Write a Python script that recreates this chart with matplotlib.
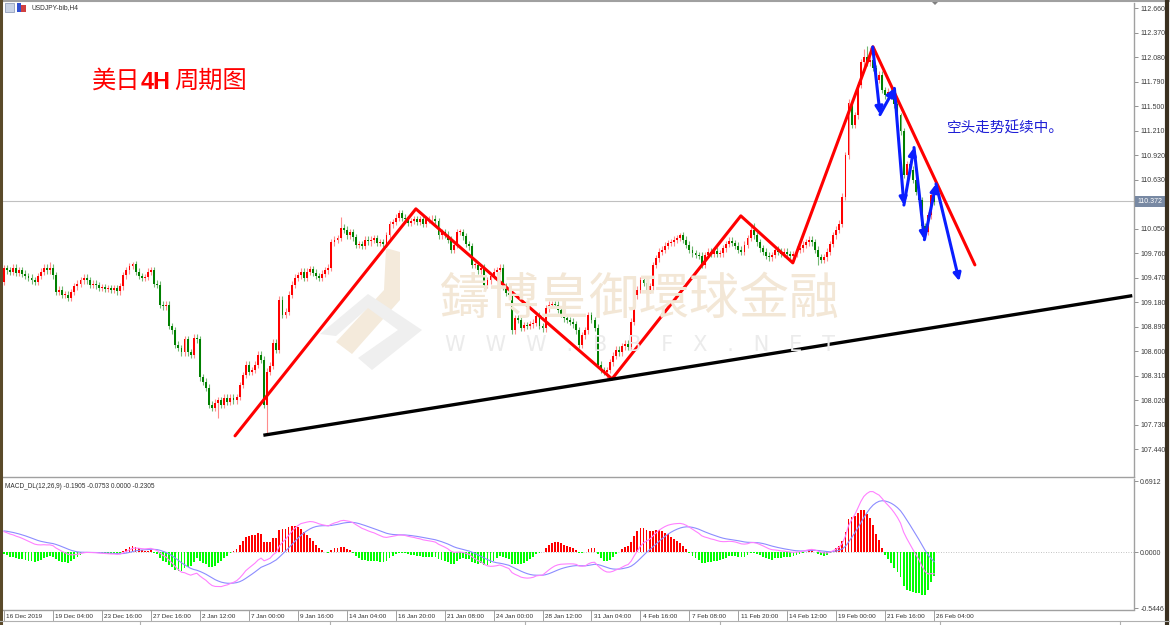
import numpy as np
import matplotlib
matplotlib.use("Agg")
import matplotlib.pyplot as plt
from matplotlib.patches import Polygon, Rectangle
from matplotlib.lines import Line2D
import matplotlib.transforms as mtransforms

# ---------------- data ----------------
open0 = 109.42
closes = [
    109.58, 109.56, 109.54, 109.59, 109.53, 109.56, 109.52, 109.49, 109.47, 109.44,
    109.42, 109.49, 109.54, 109.59, 109.56, 109.59, 109.50, 109.30, 109.33, 109.27,
    109.27, 109.23, 109.30, 109.37, 109.40, 109.44, 109.47, 109.44, 109.39, 109.40,
    109.38, 109.35, 109.36, 109.34, 109.35, 109.33, 109.35, 109.31, 109.37, 109.50,
    109.56, 109.61, 109.63, 109.54, 109.49, 109.47, 109.48, 109.54, 109.56, 109.40,
    109.39, 109.15, 109.13, 109.15, 108.90, 108.85, 108.68, 108.64, 108.59, 108.74,
    108.59, 108.56, 108.76, 108.74, 108.29, 108.24, 108.17, 107.97, 107.93, 107.99,
    108.02, 107.97, 108.05, 108.00, 108.05, 108.02, 108.06, 108.20, 108.32, 108.44,
    108.36, 108.38, 108.44, 108.56, 108.50, 107.97, 108.36, 108.43, 108.70, 108.62,
    109.21, 109.03, 109.07, 109.27, 109.39, 109.47, 109.50, 109.54, 109.47, 109.54,
    109.57, 109.53, 109.49, 109.47, 109.52, 109.56, 109.59, 109.89, 109.92, 109.94,
    110.06, 110.04, 109.97, 110.01, 109.95, 109.86, 109.87, 109.85, 109.92, 109.90,
    109.92, 109.94, 109.88, 109.89, 109.87, 109.97, 110.10, 110.13, 110.18, 110.23,
    110.18, 110.16, 110.12, 110.14, 110.16, 110.13, 110.16, 110.11, 110.16, 110.16,
    110.17, 110.14, 109.97, 110.01, 109.98, 109.92, 109.80, 109.86, 110.01, 110.01,
    109.96, 109.87, 109.84, 109.62, 109.62, 109.56, 109.59, 109.39, 109.44, 109.49,
    109.54, 109.56, 109.59, 109.37, 109.29, 109.26, 108.85, 108.99, 108.97, 108.88,
    108.91, 108.90, 108.92, 108.94, 109.02, 108.90, 108.87, 109.11, 109.15, 109.16,
    109.15, 109.09, 109.04, 108.99, 108.97, 108.95, 108.92, 108.85, 108.68, 108.79,
    108.85, 109.03, 108.97, 108.88, 108.44, 108.38, 108.36, 108.38, 108.47, 108.55,
    108.62, 108.59, 108.66, 108.69, 108.65, 108.95, 109.26, 109.33, 109.44, 109.41,
    109.33, 109.37, 109.62, 109.70, 109.78, 109.80, 109.85, 109.88, 109.89, 109.92,
    109.94, 109.97, 109.92, 109.86, 109.80, 109.76, 109.74, 109.73, 109.62, 109.74,
    109.78, 109.75, 109.79, 109.75, 109.76, 109.82, 109.87, 109.91, 109.88, 109.85,
    109.80, 109.78, 109.86, 109.94, 110.04, 109.97, 109.89, 109.82, 109.78, 109.73,
    109.71, 109.74, 109.80, 109.78, 109.75, 109.78, 109.75, 109.73, 109.75, 109.80,
    109.82, 109.86, 109.89, 109.92, 109.89, 109.80, 109.71, 109.68, 109.71, 109.78,
    109.87, 109.97, 110.04, 110.11, 110.43, 110.92, 111.54, 111.28, 111.39, 111.75,
    112.02, 112.08, 112.02, 112.05, 111.95, 111.81, 111.87, 111.69, 111.63, 111.67,
    111.63, 111.52, 111.40, 111.20, 110.69, 110.81, 110.75, 110.63, 110.49, 110.39,
    110.08, 110.01, 110.21, 110.45, 110.37,
]
wick_pad = 0.04
high_override = {15: 109.66, 42: 109.66, 110: 110.19, 129: 110.27, 221: 110.00,
                 245: 110.12, 281: 112.18, 282: 112.21, 283: 112.20, 293: 111.42}
low_override = {70: 107.81, 86: 107.63, 197: 108.27, 120: 109.85, 266: 109.62}

# MACD(12,26,9) seeds from history before the first bar
ema12_seed = 109.50
ema26_seed = 109.29
signal_seed = 0.21
macd_readout = [-0.1905, -0.0753, 0.0000, -0.2305]

# analyst lines (bar index, price)
trend_bar = [75.5, 134.6, 198.7, 240.8, 257.8, 284.0, 317.3]
trend_price = [107.60, 110.285, 108.273, 110.202, 109.646, 112.202, 109.622]
support_bar = [85.3, 368.2]
support_price = [107.61, 109.255]
arrow_bar = [283.9, 286.3, 291.0, 294.1, 297.4, 300.8, 304.6, 312.2]
arrow_price = [112.20, 111.40, 111.71, 110.33, 111.01, 109.92, 110.58, 109.43]

current_price = 110.372
price_ticks = [107.440, 107.730, 108.020, 108.310, 108.600, 108.890, 109.180, 109.470,
               109.760, 110.050, 110.340, 110.630, 110.920, 111.210, 111.500, 111.790,
               112.080, 112.370, 112.660]
date_labels = ["16 Dec 2019", "19 Dec 04:00", "23 Dec 16:00", "27 Dec 16:00", "2 Jan 12:00",
               "7 Jan 00:00", "9 Jan 16:00", "14 Jan 04:00", "16 Jan 20:00", "21 Jan 08:00",
               "24 Jan 00:00", "28 Jan 12:00", "31 Jan 04:00", "4 Feb 16:00", "7 Feb 08:00",
               "11 Feb 20:00", "14 Feb 12:00", "19 Feb 00:00", "21 Feb 16:00", "26 Feb 04:00"]
date_step = 16
macd_top, macd_bottom = 0.6912, -0.5446

# ---------------- figure ----------------
W, H = 1170, 625
fig = plt.figure(figsize=(11.7, 6.25), dpi=100)
fig.patch.set_facecolor('white')

def fx(px):
    return px / W

def fy(py):
    return 1 - py / H

AX_L, AX_R = 3, 1134
ax = fig.add_axes([fx(AX_L), fy(477), fx(AX_R) - fx(AX_L), fy(3) - fy(477)])
mx = fig.add_axes([fx(AX_L), fy(609.5), fx(AX_R) - fx(AX_L), fy(479.5) - fy(609.5)], sharex=ax)

close = np.array(closes)
n = len(close)
idx = np.arange(n)
opn = np.r_[open0, close[:-1]]
up = close >= opn
high = np.maximum(opn, close) + wick_pad
low = np.minimum(opn, close) - wick_pad
for k, v in high_override.items():
    high[k] = v
for k, v in low_override.items():
    low[k] = v
body_lo = np.minimum(opn, close)
body_h = np.maximum(np.abs(close - opn), 0.008)

ax.set_xlim(-0.33, 369.3)
ax.set_ylim(107.113, 112.72)

# watermark
wm_color = '#f3e7d6'
fig.text(fx(640), fy(300), "鑄博皇御環球金融", fontsize=36, color=wm_color,
         family=['Noto Sans CJK TC', 'DejaVu Sans'], ha='center', va='center', zorder=0)
fig.text(fx(640), fy(345), "W   W   W   .   B   B   F   X   .   N   E   T", fontsize=15,
         color='#ebebeb', ha='center', va='center', zorder=0)
logo_beige = [(386, 248), (400, 252), (400, 300), (352, 354), (336, 342), (384, 290)]
logo_gray = [(320, 334), (368, 294), (422, 330), (372, 370), (358, 358), (398, 330), (368, 308), (336, 336)]
for pts, col in ((logo_beige, '#f4eadb'), (logo_gray, '#efefef')):
    fig.patches.append(Polygon([(fx(a), fy(b)) for a, b in pts], closed=True,
                               transform=fig.transFigure, facecolor=col, edgecolor='none', zorder=0))

ax.patch.set_alpha(0)
mx.patch.set_alpha(0)

# current price line
ax.axhline(current_price, color='#c0c0c0', lw=0.8, zorder=1)

# candles
ax.vlines(idx, low, high, colors=np.where(up, '#ff8c8c', '#74b874'), lw=0.8, zorder=2)
ax.bar(idx, body_h, bottom=body_lo, width=0.62, color=np.where(up, '#ff0000', '#008000'),
       linewidth=0, zorder=3)

# analyst lines
ax.plot(trend_bar, trend_price, color='#ff0000', lw=2.2, zorder=5, solid_capstyle='round')
ax.plot(support_bar, support_price, color='black', lw=2.4, zorder=5)
for i in range(len(arrow_bar) - 1):
    ax.annotate('', xy=(arrow_bar[i + 1], arrow_price[i + 1]),
                xytext=(arrow_bar[i], arrow_price[i]),
                arrowprops=dict(arrowstyle='-|>', color='#0a1eff', lw=2.2,
                                mutation_scale=11, shrinkA=0, shrinkB=0), zorder=6)

# axis styling main
for s in ('left', 'top'):
    ax.spines[s].set_visible(False)
for s in ('right', 'bottom'):
    ax.spines[s].set_color('#a0a0a0')
    ax.spines[s].set_linewidth(1.0)
ax.yaxis.tick_right()
ax.set_yticks(price_ticks)
ax.set_yticklabels(["" if abs(v - 110.340) < 1e-6 else f"{v:.3f}" for v in price_ticks])
ax.tick_params(axis='y', labelsize=5.0, labelcolor='#3a3a3a', length=3, width=0.6,
               color='#808080', pad=1.5)
for t in ax.get_yticklabels():
    t.set_family('Liberation Sans')
ax.tick_params(axis='x', bottom=False, labelbottom=False)

# current price label
ax.text(1.003, current_price, f"{current_price:.3f}", transform=ax.get_yaxis_transform(),
        fontsize=5.0, family='Liberation Sans', color='white', va='center', ha='left', zorder=10,
        bbox=dict(boxstyle='square,pad=0.35', facecolor='#7889a3', edgecolor='none'))

# MACD
def ema(values, period, seed):
    a = 2.0 / (period + 1)
    out = []
    e = seed
    for v in values:
        e = e + a * (v - e)
        out.append(e)
    return np.array(out)

macd = ema(close, 12, ema12_seed) - ema(close, 26, ema26_seed)
signal = ema(macd, 9, signal_seed)
hist = 2 * (macd - signal)

mx.set_ylim(-0.557, 0.709)
mx.axhline(0, color='#b0b0b0', lw=0.6, ls=(0, (1, 2)), zorder=1)
mx.bar(idx, hist, width=0.6, color=np.where(hist >= 0, '#ff0000', '#00ff00'), linewidth=0, zorder=2)
mx.plot(idx, signal, color='#8c8cff', lw=0.8, zorder=3)
mx.plot(idx, macd, color='#ff80ff', lw=0.8, zorder=3)

for s in ('left', 'top'):
    mx.spines[s].set_visible(False)
for s in ('right', 'bottom'):
    mx.spines[s].set_color('#a0a0a0')
    mx.spines[s].set_linewidth(1.0)
mx.yaxis.tick_right()
mx.set_yticks([macd_top, 0.0, macd_bottom])
mx.set_yticklabels([f"{macd_top:.4f}", "0.0000", f"{macd_bottom:.4f}"])
mx.tick_params(axis='y', labelsize=5.0, labelcolor='#3a3a3a', length=3, width=0.6,
               color='#808080', pad=1.5)
for t in mx.get_yticklabels():
    t.set_family('Liberation Sans')
mx.tick_params(axis='x', bottom=False, labelbottom=False)
mx.text(0.002, 0.975, "MACD_DL(12,26,9) " + " ".join(f"{v:.4f}" for v in macd_readout),
        transform=mx.transAxes, fontsize=4.7, family='Liberation Sans', color='#303030',
        va='top', ha='left')

# date axis
bx = mtransforms.blended_transform_factory(mx.transData, fig.transFigure)
for k, lab in enumerate(date_labels):
    b = k * date_step
    mx.text(b + 0.7, fy(616), lab, transform=bx, fontsize=4.6, family='Liberation Sans',
            color='#303030', ha='left', va='center', clip_on=False)
    mx.plot([b, b], [fy(611), fy(620)], transform=bx, color='#909090', lw=0.6, clip_on=False)

# texts
cjk = ['Noto Sans CJK SC', 'DejaVu Sans']
fig.text(fx(92), fy(88), "美日", fontsize=17.5, color='#ff0000', family=cjk, va='baseline')
fig.text(fx(140.5), fy(89), "4H", fontsize=16.8, color='#ff0000', family='Liberation Sans',
         weight='bold', va='baseline')
fig.text(fx(174), fy(88), "周期图", fontsize=17.5, color='#ff0000', family=cjk, va='baseline')
fig.text(fx(947), fy(128), "空头走势延续中。", fontsize=10.5, color='#1f1fd6', family=cjk,
         va='center', ha='left')
fig.text(fx(31), fy(8), "USDJPY-bib,H4", fontsize=4.8, family='Liberation Sans',
         color='#303030', va='center', ha='left')

# small icons
fig.patches.append(Rectangle((fx(5), fy(12)), fx(9), fy(3) - fy(12), transform=fig.transFigure,
                             facecolor='#c9d3e6', edgecolor='#8090b0', lw=0.5))
fig.patches.append(Rectangle((fx(17), fy(12)), fx(4), fy(3) - fy(12), transform=fig.transFigure,
                             facecolor='#3050d0', edgecolor='none'))
fig.patches.append(Rectangle((fx(21), fy(12)), fx(5), fy(5) - fy(12), transform=fig.transFigure,
                             facecolor='#d04040', edgecolor='none'))

# window frame
fig.lines.append(Line2D([0, 1], [fy(1), fy(1)], transform=fig.transFigure, color='#a0a0a0', lw=1.5))
fig.lines.append(Line2D([fx(1.2), fx(1.2)], [0, 1], transform=fig.transFigure, color='#5a4a2a', lw=2.2))
fig.lines.append(Line2D([fx(1167), fx(1167)], [0, 1], transform=fig.transFigure, color='#3a3020', lw=3))
fig.lines.append(Line2D([0, 1], [fy(621), fy(621)], transform=fig.transFigure, color='#b0b0b0', lw=0.8))
for xs in (140, 330, 525, 720, 940, 1120):
    fig.lines.append(Line2D([fx(xs), fx(xs)], [fy(621), 0], transform=fig.transFigure,
                            color='#b0b0b0', lw=0.8))
fig.patches.append(Polygon([(fx(930), fy(0)), (fx(940), fy(0)), (fx(935), fy(5))], closed=True,
                           transform=fig.transFigure, facecolor='#808080', edgecolor='none'))

fig.savefig('out.png', dpi=100, facecolor='white')
